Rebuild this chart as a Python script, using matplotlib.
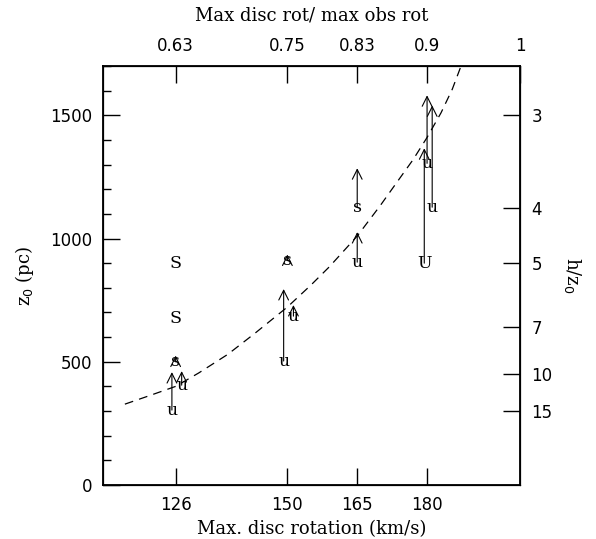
import numpy as np
import matplotlib
matplotlib.use("Agg")
import matplotlib.pyplot as plt
from matplotlib.ticker import MultipleLocator

# galaxies: max disc rotation (km/s), z0 label position (pc), arrow tip (pc), marker letter
rot = [126, 126, 126, 125.2, 127.3, 150, 149.2, 151.3, 165, 165, 179.4, 180, 181.1]
z0 = [900, 677, 500, 304, 405, 912, 503, 685, 1127, 904, 900, 1305, 1127]
z0_lim = [None, None, 525, 458, 462, 935, 795, 730, 1285, 1026, 1366, 1581, 1540]
letters = ["S", "S", "s", "u", "u", "s", "u", "u", "s", "u", "U", "u", "u"]

# dashed model curve
curve_rot = [115.1, 120, 126, 131, 137.2, 143, 150, 155, 159, 165, 170,
             173.4, 177, 180, 183, 185.4, 187.3]
curve_z0 = [328, 360, 400, 455, 530, 615, 722, 810, 885, 1010, 1135,
            1225, 1320, 1410, 1510, 1605, 1700]

bottom_ticks = [126, 150, 165, 180]
top_ticks = [126, 150, 165, 180, 200]
top_labels = ["0.63", "0.75", "0.83", "0.9", "1"]
h_over_z0 = [3, 4, 5, 7, 10, 15]
h_pc = 4500

fig = plt.figure(figsize=(5.96, 5.39), dpi=100)
ax = fig.add_axes([0.1728, 0.1002, 0.7, 0.7774])

ax.plot(curve_rot, curve_z0, color="black", lw=0.9, ls=(0, (7, 5)))

for x, y, y2, t in zip(rot, z0, z0_lim, letters):
    if y2 is not None:
        ax.annotate("", xy=(x, y2), xytext=(x, y),
                    arrowprops=dict(arrowstyle="->,head_length=0.7,head_width=0.35",
                                    color="black", lw=0.8, shrinkA=0, shrinkB=0))
    ax.text(x, y, t, ha="center", va="center", fontsize=12.5,
            family="DejaVu Serif")

ax.set_xlim(110.4, 200)
ax.set_ylim(0, 1700)
ax.set_xticks(bottom_ticks)
ax.yaxis.set_major_locator(MultipleLocator(500))
ax.yaxis.set_minor_locator(MultipleLocator(100))
ax.tick_params(axis="x", direction="in", length=12, width=1, labelsize=12, pad=8)
ax.tick_params(axis="y", which="major", direction="in", length=12, width=1,
               labelsize=12, pad=8)
ax.tick_params(axis="y", which="minor", direction="in", length=6, width=1)
ax.tick_params(top=False, right=False)
for s in ax.spines.values():
    s.set_linewidth(1.3)

ax.set_xlabel("Max. disc rotation (km/s)", fontsize=13, family="DejaVu Serif",
              labelpad=4)
ax.set_ylabel(r"z$_0$ (pc)", fontsize=13, family="DejaVu Serif", labelpad=10)

top = ax.twiny()
top.set_xlim(ax.get_xlim())
top.set_xticks(top_ticks)
top.set_xticklabels(top_labels)
top.tick_params(axis="x", direction="in", length=12, width=1, labelsize=12, pad=8)
top.set_xlabel("Max disc rot/ max obs rot", fontsize=13, family="DejaVu Serif",
               labelpad=12)

right = ax.twinx()
right.set_ylim(ax.get_ylim())
right.set_yticks([h_pc / v for v in h_over_z0])
right.set_yticklabels([str(v) for v in h_over_z0])
right.tick_params(axis="y", direction="in", length=12, width=1, labelsize=12, pad=8)
right.set_ylabel(r"h/z$_0$", fontsize=13, family="DejaVu Serif", rotation=-90,
                 labelpad=22)

fig.savefig("out.png", dpi=100)
